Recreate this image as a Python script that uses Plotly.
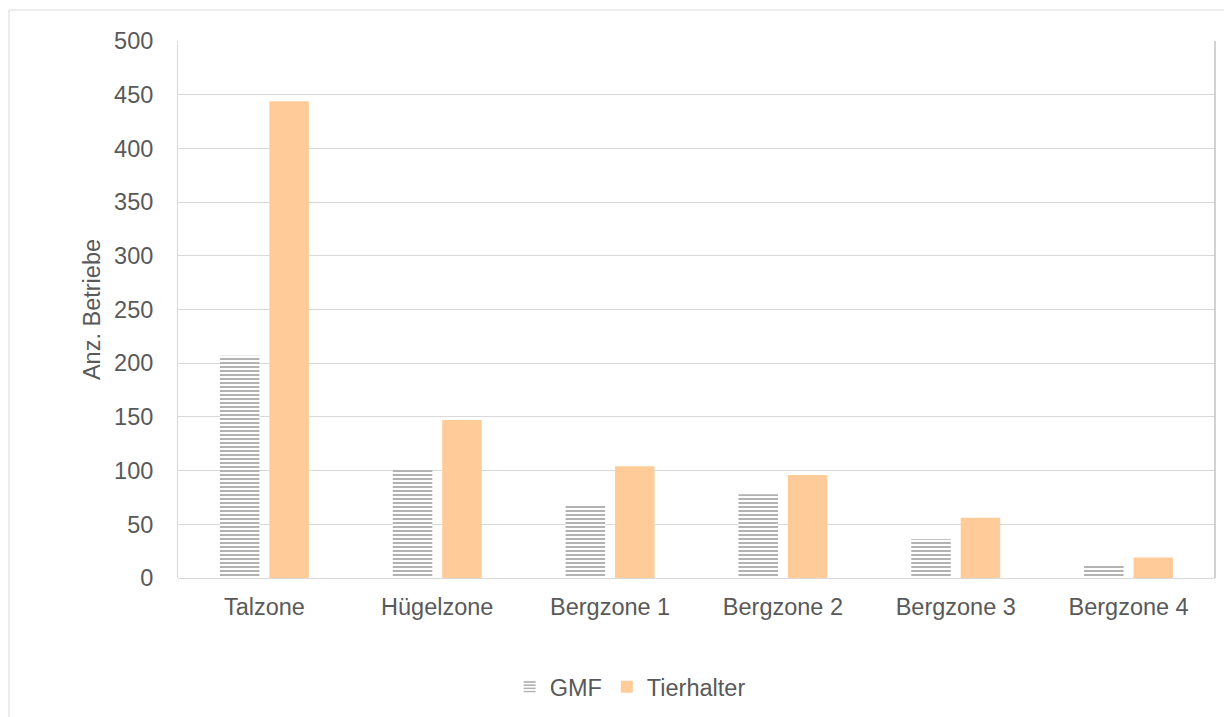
import plotly.graph_objects as go

categories = ["Talzone", "Hügelzone", "Bergzone 1", "Bergzone 2", "Bergzone 3", "Bergzone 4"]
gmf = [207, 102, 68, 78, 36, 13]
tierhalter = [444, 147, 104, 96, 56, 19]
y_ticks = [0, 50, 100, 150, 200, 250, 300, 350, 400, 450, 500]

FONT = "Liberation Sans, Arial, sans-serif"
TXT = "#595959"
FS = 23.5

fig = go.Figure()
fig.add_trace(go.Bar(
    x=categories, y=gmf, name="GMF",
    marker=dict(color="white", line=dict(width=0),
                pattern=dict(shape="-", fgcolor="#666666", bgcolor="white",
                             size=4, solidity=0.5, fillmode="overlay")),
))
fig.add_trace(go.Bar(
    x=categories, y=tierhalter, name="Tierhalter",
    marker=dict(color="#ffcc99", line=dict(width=0)),
))

fig.update_layout(
    width=1232, height=717,
    margin=dict(l=170, r=25, t=33, b=147),
    paper_bgcolor="white", plot_bgcolor="white",
    barmode="group", bargap=0.428, bargroupgap=0.2,
    font=dict(family=FONT, size=FS, color=TXT),
    showlegend=True,
    legend=dict(orientation="h", x=0.436, xanchor="center", y=-0.203, yanchor="middle",
                font=dict(family=FONT, size=FS, color=TXT), itemwidth=30,
                traceorder="normal"),
    xaxis=dict(showgrid=False, showline=False, ticks="", ticklabelstandoff=12,
               tickfont=dict(family=FONT, size=FS, color=TXT)),
    yaxis=dict(range=[0, 500], tickvals=y_ticks, showgrid=True, gridcolor="#d9d9d9",
               gridwidth=1, zeroline=True, zerolinecolor="#d9d9d9", zerolinewidth=1,
               showline=True, linecolor="#d9d9d9", linewidth=1, ticks="",
               ticklabelstandoff=19,
               tickfont=dict(family=FONT, size=FS, color=TXT),
               title=dict(text="Anz. Betriebe", font=dict(family=FONT, size=FS, color=TXT),
                          standoff=6)),
    shapes=[
        dict(type="rect", xref="paper", yref="paper",
             x0=-0.163, x1=1.2, y0=-0.4, y1=1.0577,
             line=dict(color="#d9d9d9", width=1), layer="below"),
        dict(type="line", xref="paper", yref="paper",
             x0=1, x1=1, y0=0, y1=1,
             line=dict(color="#a6a6a6", width=1)),
    ],
)

fig.write_html("out.html")
